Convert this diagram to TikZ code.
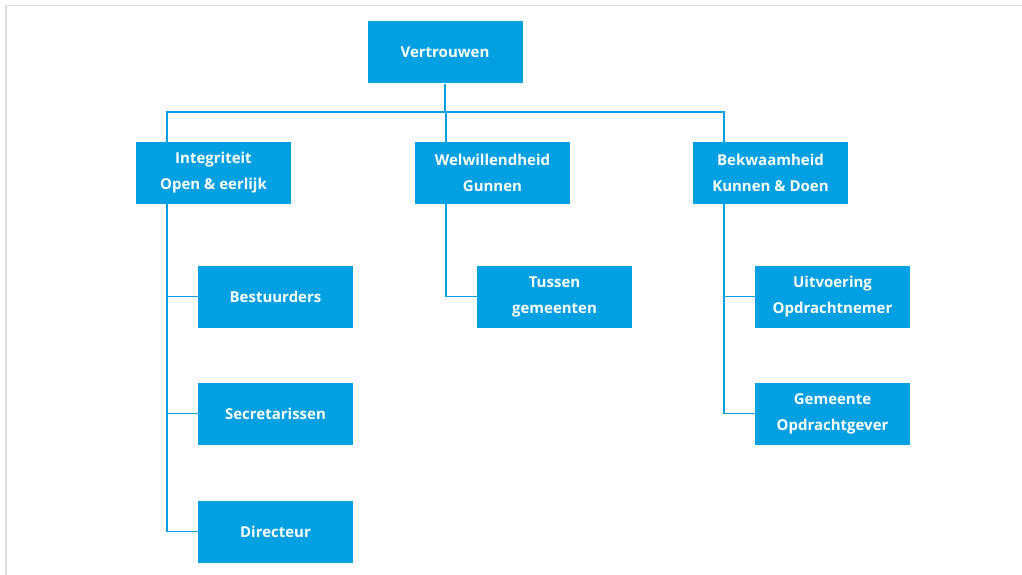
\documentclass[tikz,border=0pt]{standalone}
\usepackage{fontspec}
\setmainfont{Open Sans}
\usepackage{tikz}
\usetikzlibrary{positioning, calc}
\definecolor{rijksblauw}{HTML}{00A0E2}
\definecolor{kaderGrijs}{HTML}{DCDCDC}
\tikzset{
waarde/.style = { rectangle, fill = rijksblauw, text = white, minimum width = 155pt, minimum height = 62pt, align = center, font = \fontsize{15}{26}\selectfont\bfseries, inner sep = 0pt },
link/.style = { draw = rijksblauw, line width = 1.6pt },
kader/.style = { draw = kaderGrijs, line width = 1.5pt },
}

\begin{document}
\begin{tikzpicture}[x = 1pt, y = -1pt]
    \useasboundingbox (0, 0) rectangle (1022, 575);
    % grijs kader
    \draw[kader] (5.75, 575) -- (5.75, 5.75) -- (1022, 5.75);
    % bovenste rij
    \node[waarde] (vertrouwen) at (445, 52.5) {Vertrouwen};
    \node[waarde] (integriteit) at (213.5, 173) {Integriteit\\Open \& eerlijk};
    \node[waarde] (welwillendheid) at (492.5, 173) {Welwillendheid\\Gunnen};
    \node[waarde] (bekwaamheid) at (770.5, 173) {Bekwaamheid\\Kunnen \& Doen};
    % onderste rijen
    \node[waarde] (bestuurders) at (275.5, 296.5) {Bestuurders};
    \node[waarde] (secretarissen) at (275.5, 413.5) {Secretarissen};
    \node[waarde] (directeur) at (275.5, 531.5) {Directeur};
    \node[waarde] (tussen) at (554.5, 296.5) {Tussen\\gemeenten};
    \node[waarde] (uitvoering) at (832.5, 296.5) {Uitvoering\\Opdrachtnemer};
    \node[waarde] (gemeente) at (832.5, 413.5) {Gemeente\\Opdrachtgever};
    % aftakpunten
    \coordinate (bus) at (445, 112);
    \coordinate (integriteit top) at ($(integriteit.north west)!0.2!(integriteit.north east)$);
    \coordinate (integriteit voet) at ($(integriteit.south west)!0.2!(integriteit.south east)$);
    \coordinate (welwillendheid top) at ($(welwillendheid.north west)!0.2!(welwillendheid.north east)$);
    \coordinate (welwillendheid voet) at ($(welwillendheid.south west)!0.2!(welwillendheid.south east)$);
    \coordinate (bekwaamheid top) at ($(bekwaamheid.north west)!0.2!(bekwaamheid.north east)$);
    \coordinate (bekwaamheid voet) at ($(bekwaamheid.south west)!0.2!(bekwaamheid.south east)$);
    % verbindingen
    \draw[link] (vertrouwen.south) -- (bus);
    \draw[link] (bus) -| (integriteit top);
    \draw[link] (bus) -| (welwillendheid top);
    \draw[link] (bus) -| (bekwaamheid top);
    \draw[link] (integriteit voet) |- (bestuurders.west);
    \draw[link] (integriteit voet) |- (secretarissen.west);
    \draw[link] (integriteit voet) |- (directeur.west);
    \draw[link] (welwillendheid voet) |- (tussen.west);
    \draw[link] (bekwaamheid voet) |- (uitvoering.west);
    \draw[link] (bekwaamheid voet) |- (gemeente.west);
\end{tikzpicture}
\end{document}
